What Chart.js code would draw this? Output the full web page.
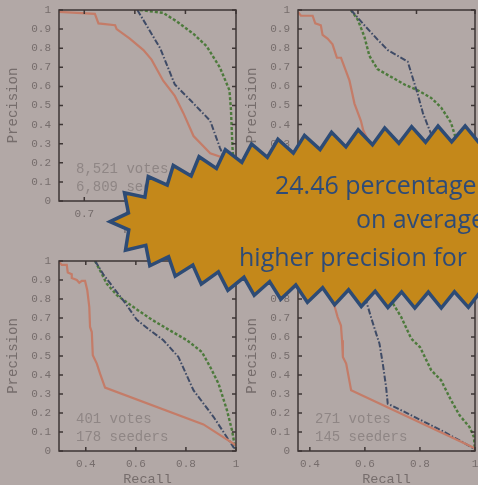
<!DOCTYPE html>
<html>
<head>
<meta charset="utf-8">
<script src="https://cdn.jsdelivr.net/npm/chart.js@4.4.1/dist/chart.umd.min.js"></script>
<style>
  html, body { margin: 0; padding: 0; }
  body { width: 478px; height: 485px; overflow: hidden; background: #b2a8a6; position: relative; }
  canvas { position: absolute; }
  .note {
    position: absolute;
    font-family: "Open Sans", sans-serif;
    font-size: 25px;
    line-height: 25px;
    color: #2e4b77;
    white-space: nowrap;
  }
</style>
</head>
<body>
<canvas id="tl" width="250" height="240" style="left:0;top:0"></canvas>
<canvas id="tr" width="250" height="240" style="left:239px;top:0"></canvas>
<canvas id="bl" width="250" height="250" style="left:0;top:240px"></canvas>
<canvas id="br" width="250" height="250" style="left:239px;top:240px"></canvas>
<canvas id="burst" width="478" height="485" style="left:0;top:0"></canvas>
<div class="note" style="left:275px;top:172px">24.46 percentage points</div>
<div class="note" style="left:356px;top:206px">on average</div>
<div class="note" style="left:239px;top:244px">higher precision for</div>

<script>
// precision / recall curves, [recall, precision]
const precisionTicks = [0, 0.1, 0.2, 0.3, 0.4, 0.5, 0.6, 0.7, 0.8, 0.9, 1];

const tlRecallTicks = [0.7, 0.8, 0.9, 1];
const tlSolid = [[0.65, 0.99], [0.721, 0.98], [0.728, 0.93], [0.761, 0.92], [0.764, 0.9], [0.79, 0.85], [0.817, 0.79], [0.833, 0.74], [0.856, 0.63], [0.879, 0.55], [0.896, 0.46], [0.916, 0.34], [0.949, 0.25], [0.982, 0.22], [1.0, 0.2]];
const tlDashDot = [[0.805, 1.0], [0.823, 0.92], [0.85, 0.8], [0.879, 0.61], [0.909, 0.53], [0.949, 0.42], [0.968, 0.28], [0.976, 0.23], [0.99, 0.12], [1.0, 0.03]];
const tlDashed = [[0.81, 1.0], [0.856, 0.985], [0.883, 0.94], [0.916, 0.875], [0.942, 0.81], [0.968, 0.7], [0.987, 0.58], [0.99, 0.48], [0.993, 0.28], [0.997, 0.15], [1.0, 0.02]];
const tlNotes = ["8,521 votes", "6,809 seeders"];

const trRecallTicks = [0.6, 0.8, 1];
const trSolid = [[0.395, 0.99], [0.405, 0.97], [0.445, 0.97], [0.454, 0.93], [0.473, 0.92], [0.479, 0.87], [0.496, 0.85], [0.513, 0.82], [0.528, 0.75], [0.542, 0.75], [0.559, 0.68], [0.571, 0.63], [0.588, 0.51], [0.61, 0.42], [0.618, 0.37], [0.64, 0.3], [1.0, 0.03]];
const trDashDot = [[0.576, 1.0], [0.622, 0.92], [0.667, 0.845], [0.702, 0.79], [0.77, 0.73], [0.782, 0.67], [0.804, 0.56], [0.822, 0.46], [0.85, 0.35], [0.9, 0.2], [1.0, 0.02]];
const trDashed = [[0.576, 1.0], [0.599, 0.95], [0.622, 0.86], [0.639, 0.76], [0.667, 0.69], [0.713, 0.65], [0.759, 0.61], [0.804, 0.58], [0.85, 0.54], [0.884, 0.49], [0.918, 0.41], [0.936, 0.32], [0.97, 0.15], [1.0, 0.0]];

const blRecallTicks = [0.4, 0.6, 0.8, 1];
const blSolid = [[0.293, 0.995], [0.304, 0.98], [0.324, 0.98], [0.328, 0.94], [0.344, 0.93], [0.344, 0.91], [0.364, 0.9], [0.374, 0.885], [0.384, 0.895], [0.397, 0.895], [0.406, 0.846], [0.414, 0.758], [0.417, 0.653], [0.424, 0.626], [0.428, 0.504], [0.444, 0.46], [0.457, 0.407], [0.477, 0.334], [0.87, 0.14], [1.0, 0.03]];
const blDashDot = [[0.437, 1.0], [0.47, 0.93], [0.51, 0.86], [0.557, 0.78], [0.604, 0.69], [0.657, 0.635], [0.71, 0.583], [0.77, 0.495], [0.83, 0.32], [0.91, 0.18], [0.99, 0.02], [1.0, 0.01]];
const blDashed = [[0.437, 1.0], [0.457, 0.95], [0.484, 0.88], [0.524, 0.82], [0.59, 0.758], [0.657, 0.697], [0.724, 0.644], [0.804, 0.583], [0.864, 0.521], [0.897, 0.442], [0.93, 0.355], [0.964, 0.214], [0.984, 0.109], [0.997, 0.013]];
const blNotes = ["401 votes", "178 seeders"];

const brRecallTicks = [0.4, 0.6, 0.8, 1];
const brSolid = [[0.357, 1.0], [0.38, 0.97], [0.42, 0.93], [0.45, 0.88], [0.47, 0.83], [0.489, 0.767], [0.501, 0.705], [0.513, 0.66], [0.517, 0.583], [0.52, 0.495], [0.532, 0.46], [0.55, 0.32], [0.992, 0.02], [1.0, 0.015]];
const brDashDot = [[0.5, 1.0], [0.56, 0.9], [0.604, 0.793], [0.622, 0.705], [0.641, 0.618], [0.653, 0.565], [0.665, 0.46], [0.677, 0.337], [0.683, 0.249], [0.72, 0.223], [0.804, 0.162], [0.889, 0.1], [0.986, 0.021], [1.0, 0.01]];
const brDashed = [[0.55, 1.0], [0.62, 0.92], [0.66, 0.86], [0.695, 0.793], [0.732, 0.705], [0.768, 0.592], [0.8, 0.547], [0.841, 0.425], [0.877, 0.372], [0.913, 0.267], [0.944, 0.188], [0.98, 0.126], [0.996, 0.074], [1.0, 0.0]];
const brNotes = ["271 votes", "145 seeders"];

const axisColor = "#3d3534";
const tickTextColor = "#766d6c";
const noteColor = "#8f8685";
const monoFont = '"Liberation Mono", "DejaVu Sans Mono", monospace';

const framePlugin = {
  id: "frame",
  afterDatasetsDraw(chart, args, opts) {
    const { ctx, chartArea: a, scales: { x, y } } = chart;
    ctx.save();
    ctx.strokeStyle = axisColor;
    ctx.lineWidth = 1.5;
    ctx.strokeRect(a.left, a.top, a.right - a.left, a.bottom - a.top);
    ctx.beginPath();
    x.ticks.forEach((t) => {
      const px = x.getPixelForValue(t.value);
      ctx.moveTo(px, a.bottom); ctx.lineTo(px, a.bottom - 4);
      ctx.moveTo(px, a.top); ctx.lineTo(px, a.top + 4);
    });
    y.ticks.forEach((t) => {
      const py = y.getPixelForValue(t.value);
      ctx.moveTo(a.left, py); ctx.lineTo(a.left + 4, py);
      ctx.moveTo(a.right, py); ctx.lineTo(a.right - 4, py);
    });
    ctx.stroke();

    ctx.fillStyle = noteColor;
    ctx.font = "14px " + monoFont;
    ctx.textBaseline = "middle";
    (opts.notes || []).forEach((line, i) => {
      ctx.fillText(line, a.left + 17, a.bottom - 32 + i * 18);
    });
    ctx.restore();
  }
};

function toPoints(pairs) {
  return pairs.map(([x, y]) => ({ x, y }));
}

function fmt(v) {
  return String(Math.round(v * 10) / 10);
}

function makePanel(id, panel) {
  new Chart(document.getElementById(id), {
    type: "line",
    data: {
      datasets: [
        { data: toPoints(panel.solid), borderColor: "#c47c68", borderWidth: 2.2 },
        { data: toPoints(panel.dashDot), borderColor: "#3f4b66", borderWidth: 2, borderDash: [6, 2, 1.5, 2] },
        { data: toPoints(panel.dashed), borderColor: "#4d7a3c", borderWidth: 2.4, borderDash: [3, 2] }
      ]
    },
    options: {
      responsive: false,
      animation: false,
      devicePixelRatio: 1,
      layout: { padding: { top: panel.top, right: 14, left: 0, bottom: 0 } },
      elements: { point: { radius: 0 }, line: { tension: 0 } },
      plugins: {
        legend: { display: false },
        tooltip: { enabled: false },
        frame: { notes: panel.notes }
      },
      scales: {
        x: {
          type: "linear",
          min: panel.xMin,
          max: 1,
          border: { display: false },
          grid: { display: false, drawTicks: false },
          afterBuildTicks: (s) => { s.ticks = panel.xTicks.map((v) => ({ value: v })); },
          afterFit: (s) => {
            s.height = panel.xHeight;
            s.paddingLeft = 0;
            s.paddingRight = 0;
          },
          ticks: {
            autoSkip: false,
            maxRotation: 0,
            padding: 6,
            color: tickTextColor,
            font: { family: monoFont, size: 11 },
            callback: fmt
          },
          title: {
            display: true,
            text: "Recall",
            color: tickTextColor,
            padding: { top: 0, bottom: 2 },
            font: { family: monoFont, size: 13.5 }
          }
        },
        y: {
          min: 0,
          max: 1,
          border: { display: false },
          grid: { display: false, drawTicks: false },
          afterBuildTicks: (s) => { s.ticks = precisionTicks.map((v) => ({ value: v })); },
          afterFit: (s) => {
            s.width = 59;
            s.paddingTop = 0;
            s.paddingBottom = 0;
          },
          ticks: {
            autoSkip: false,
            padding: 8,
            color: tickTextColor,
            font: { family: monoFont, size: 11 },
            callback: fmt
          },
          title: {
            display: true,
            text: "Precision",
            color: tickTextColor,
            padding: { top: 4.5, bottom: 0 },
            font: { family: monoFont, size: 14 }
          }
        }
      }
    },
    plugins: [framePlugin]
  });
}

makePanel("tl", { solid: tlSolid, dashDot: tlDashDot, dashed: tlDashed, xMin: 0.65, xTicks: tlRecallTicks, notes: tlNotes, top: 10, xHeight: 39 });
makePanel("tr", { solid: trSolid, dashDot: trDashDot, dashed: trDashed, xMin: 0.395, xTicks: trRecallTicks, notes: [], top: 10, xHeight: 39 });
makePanel("bl", { solid: blSolid, dashDot: blDashDot, dashed: blDashed, xMin: 0.293, xTicks: blRecallTicks, notes: blNotes, top: 21, xHeight: 39 });
makePanel("br", { solid: brSolid, dashDot: brDashDot, dashed: brDashed, xMin: 0.357, xTicks: brRecallTicks, notes: brNotes, top: 21, xHeight: 39 });

// the jagged callout drawn over the panels
const burst = { cx: 440, cy: 217, rx: 322, ry: 83, tilt: -0.8, depth: 8, step: 26.5 };

function drawBurst() {
  const ctx = document.getElementById("burst").getContext("2d");
  const samples = [];
  const n = 3000;
  let length = 0;
  for (let i = 0; i <= n; i++) {
    const t = Math.PI + (2 * Math.PI * i) / n;
    const x = burst.rx * Math.cos(t);
    const y = burst.ry * Math.sin(t);
    if (i > 0) {
      const p = samples[i - 1];
      length += Math.hypot(x - p.x, y - p.y);
    }
    samples.push({ x, y, s: length });
  }
  const count = 2 * Math.round(length / burst.step);
  const angle = (burst.tilt * Math.PI) / 180;
  const cos = Math.cos(angle);
  const sin = Math.sin(angle);
  ctx.beginPath();
  let j = 0;
  for (let k = 0; k < count; k++) {
    const s = (k * length) / count;
    while (samples[j + 1].s < s) j++;
    const p = samples[j];
    let nx = p.x / (burst.rx * burst.rx);
    let ny = p.y / (burst.ry * burst.ry);
    const nl = Math.hypot(nx, ny);
    nx /= nl;
    ny /= nl;
    const r = k % 2 === 0 ? burst.depth : -burst.depth;
    const x = p.x + nx * r;
    const y = p.y + ny * r;
    const X = burst.cx + x * cos - y * sin;
    const Y = burst.cy + x * sin + y * cos;
    if (k === 0) ctx.moveTo(X, Y);
    else ctx.lineTo(X, Y);
  }
  ctx.closePath();
  ctx.fillStyle = "#c4881a";
  ctx.fill();
  ctx.lineWidth = 3.5;
  ctx.lineJoin = "miter";
  ctx.strokeStyle = "#2d4b75";
  ctx.stroke();
}

drawBurst();
</script>
</body>
</html>
